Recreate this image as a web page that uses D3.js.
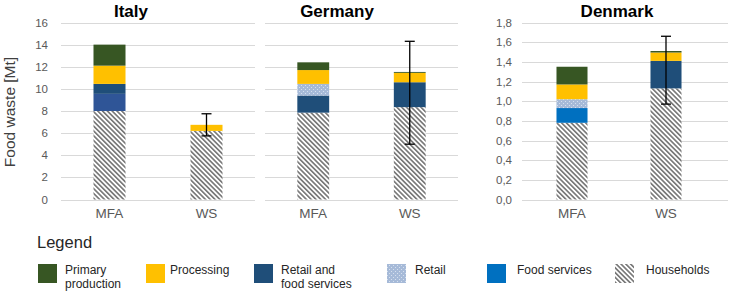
<!DOCTYPE html>
<html>
<head>
<meta charset="utf-8">
<script src="https://cdn.jsdelivr.net/npm/d3@7"></script>
<style>
  body { margin: 0; background: #fff; }
  svg { font-family: Arial, "Liberation Sans", sans-serif; }
</style>
</head>
<body>
<div id="chart"></div>
<script>
// data (in Mt)
const countries = ["Italy", "Germany", "Denmark"];
const methods = ["MFA", "WS"];
// order of each array: Italy MFA, Italy WS, Germany MFA, Germany WS, Denmark MFA, Denmark WS
const households   = [8.0, 6.2, 7.85, 8.35, 0.78, 1.13];
const foodServices = [1.55, 0, 0, 0, 0.15, 0];
const retailFood   = [0.9, 0, 1.55, 2.25, 0, 0.28];
const retail       = [0, 0, 1.05, 0, 0.09, 0];
const processing   = [1.65, 0.55, 1.25, 0.85, 0.15, 0.085];
const primary      = [1.9, 0, 0.7, 0.08, 0.18, 0.015];
const errLow  = [null, 5.75, null, 5.0, null, 0.97];
const errHigh = [null, 7.75, null, 14.3, null, 1.66];

const seriesKeys = ["households", "foodServices", "retailFood", "retail", "processing", "primary"];
const seriesValues = { households, foodServices, retailFood, retail, processing, primary };
const legendKeys = ["primary", "processing", "retailFood", "retail", "foodServices", "households"];
const legendLabels = [["Primary", "production"], ["Processing"], ["Retail and", "food services"], ["Retail"], ["Food services"], ["Households"]];

const ticksBig = [0, 2, 4, 6, 8, 10, 12, 14, 16];
const ticksSmall = [0, 0.2, 0.4, 0.6, 0.8, 1.0, 1.2, 1.4, 1.6, 1.8];

const width = 729, height = 293;
const colors = {
    primary: "#375623",
    processing: "#FFC000",
    retailFood: "#1F4E79",
    retail: "url(#dots)",
    foodServices: "#0070C0",
    households: "url(#hatch)"
};
// Italy's food services block is drawn in a lighter navy
const colorOverride = { "Italy|foodServices": "#2F5597" };

const panels = [
    { x0: 61, x1: 255, g0: 61, g1: 255, titleX: 131, ticks: ticksBig, max: 16, labelX: 48, fmt: d => d },
    { x0: 265, x1: 458, g0: 265, g1: 458, titleX: 337, ticks: ticksBig, max: 16, labelX: null },
    { x0: 525, x1: 713, g0: 522, g1: 728, titleX: 617, ticks: ticksSmall, max: 1.8, labelX: 512, fmt: d => d.toFixed(1).replace(".", ",") }
];

const svg = d3.select("#chart").append("svg")
    .attr("width", width)
    .attr("height", height);

const defs = svg.append("defs");
const hatch = defs.append("pattern")
    .attr("id", "hatch")
    .attr("patternUnits", "userSpaceOnUse")
    .attr("width", 3.4).attr("height", 3.4)
    .attr("patternTransform", "rotate(-45)");
hatch.append("rect").attr("width", 3.4).attr("height", 3.4).attr("fill", "#fff");
hatch.append("line").attr("x1", 0.8).attr("x2", 0.8).attr("y1", 0).attr("y2", 3.4)
    .attr("stroke", "#777").attr("stroke-width", 1.7);

const dots = defs.append("pattern")
    .attr("id", "dots")
    .attr("patternUnits", "userSpaceOnUse")
    .attr("width", 4).attr("height", 4);
dots.append("rect").attr("width", 4).attr("height", 4).attr("fill", "#A6BAD8");
dots.append("rect").attr("x", 1).attr("y", 1).attr("width", 1).attr("height", 1).attr("fill", "#D6E0EE");
dots.append("rect").attr("x", 3).attr("y", 3).attr("width", 1).attr("height", 1).attr("fill", "#D6E0EE");

const rows = [];
countries.forEach((c, ci) => methods.forEach((m, mi) => {
    const i = ci * 2 + mi;
    const r = { country: c, method: m, lo: errLow[i], hi: errHigh[i] };
    seriesKeys.forEach(k => r[k] = seriesValues[k][i]);
    rows.push(r);
}));

const stack = d3.stack().keys(seriesKeys);

countries.forEach((c, ci) => {
    const p = panels[ci];
    const data = rows.filter(r => r.country === c);
    const y = d3.scaleLinear().domain([0, p.max]).range([199.5, 22.5]);
    const x = d3.scaleBand().domain(methods).range([p.x0, p.x1]);
    const bw = x.bandwidth() * 0.33;
    const g = svg.append("g");

    // gridlines
    g.selectAll(".grid").data(p.ticks).enter().append("line")
        .attr("x1", p.g0).attr("x2", p.g1)
        .attr("y1", d => Math.round(y(d)) + 0.5).attr("y2", d => Math.round(y(d)) + 0.5)
        .attr("stroke", "#D9D9D9").attr("stroke-width", 1);

    if (p.labelX !== null) {
        g.selectAll(".tick").data(p.ticks).enter().append("text")
            .attr("x", p.labelX).attr("y", d => y(d) + 4)
            .attr("text-anchor", "end")
            .attr("font-size", "11.5px").attr("fill", "#595959")
            .text(p.fmt);
    }

    const stacked = stack(data);
    stacked.forEach(s => {
        g.selectAll(null).data(s.filter(d => d[1] - d[0] > 0)).enter().append("rect")
            .attr("x", d => x(d.data.method) + x.bandwidth() / 2 - bw / 2)
            .attr("width", bw)
            .attr("y", d => y(d[1]))
            .attr("height", d => y(d[0]) - y(d[1]))
            .attr("fill", colorOverride[c + "|" + s.key] || colors[s.key]);
    });

    // error bars
    const eb = data.filter(d => d.lo !== null);
    eb.forEach(d => {
        const cx = x(d.method) + x.bandwidth() / 2;
        g.append("line").attr("x1", cx).attr("x2", cx).attr("y1", y(d.lo)).attr("y2", y(d.hi))
            .attr("stroke", "#000").attr("stroke-width", 1.3);
        [d.lo, d.hi].forEach(v => {
            g.append("line").attr("x1", cx - 5).attr("x2", cx + 5).attr("y1", y(v)).attr("y2", y(v))
                .attr("stroke", "#000").attr("stroke-width", 1.3);
        });
    });

    // category labels
    g.selectAll(".cat").data(methods).enter().append("text")
        .attr("x", d => x(d) + x.bandwidth() / 2).attr("y", 218)
        .attr("text-anchor", "middle")
        .attr("font-size", "13.5px").attr("fill", "#595959")
        .text(d => d);

    svg.append("text")
        .attr("x", p.titleX).attr("y", 17)
        .attr("text-anchor", "middle")
        .attr("font-size", "17px").attr("font-weight", "bold")
        .text(c);
});

svg.append("text")
    .attr("transform", "translate(15,112) rotate(-90)")
    .attr("text-anchor", "middle")
    .attr("font-size", "15.5px").attr("fill", "#404040")
    .text("Food waste [Mt]");

// legend
svg.append("text")
    .attr("x", 37).attr("y", 248)
    .attr("font-size", "16.5px").attr("fill", "#262626")
    .text("Legend");

const swatchX = [38, 146, 254, 387, 487, 615];
const textX = [65, 170, 281, 415, 517, 646];
legendKeys.forEach((k, i) => {
    svg.append("rect")
        .attr("x", swatchX[i]).attr("y", 264)
        .attr("width", 19).attr("height", 19)
        .attr("fill", colors[k]);
    const t = svg.append("text")
        .attr("x", textX[i]).attr("y", 274)
        .attr("font-size", "12px").attr("fill", "#262626");
    legendLabels[i].forEach((line, li) => {
        t.append("tspan").attr("x", textX[i]).attr("dy", li === 0 ? 0 : 13.5).text(line);
    });
});
</script>
</body>
</html>
